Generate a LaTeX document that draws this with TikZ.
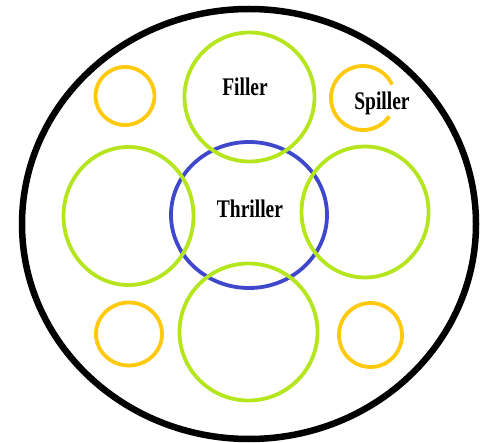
\documentclass[tikz,border=0pt]{standalone}
\usepackage{fontspec}
\setmainfont{Liberation Serif}
\usetikzlibrary{calc}
\definecolor{limeg}{HTML}{B5E61D}
\definecolor{goldo}{HTML}{FFC90E}
\definecolor{indigob}{HTML}{3F48CC}
\begin{document}
\begin{tikzpicture}[x=1pt,y=-1pt,
  outerring/.style={draw=black,line width=6.5pt},
  greenring/.style={draw=limeg,line width=3.8pt},
  bluering/.style={draw=indigob,line width=3.8pt},
  orangering/.style={draw=goldo,line width=3.8pt},
  lbl/.style={font=\fontsize{19.5}{20}\selectfont\bfseries, inner sep=0pt}]
\useasboundingbox (0,0) rectangle (487,443);
\fill[white] (0,0) rectangle (487,443);
% outer
\draw[outerring] (249,224) ellipse [x radius=227, y radius=215];
% blue centre
\draw[bluering] (249,215) ellipse [x radius=78, y radius=73];
% green rings
\draw[greenring] (249.5,97) ellipse [x radius=65, y radius=64.5];
\draw[greenring] (128.5,216) ellipse [x radius=65, y radius=69];
\draw[greenring] (365,212) ellipse [x radius=63.5, y radius=65.5];
\draw[greenring] (248.5,332) ellipse [x radius=69, y radius=68.5];
% orange rings
\draw[orangering] (125,96) ellipse [x radius=29.5, y radius=29];
\draw[orangering] (129,334) ellipse [x radius=33, y radius=31.5];
\draw[orangering] (370.5,335) ellipse [x radius=31.5, y radius=32];
\coordinate (sc) at (363,98);
\draw[orangering] ($(sc)+(35:32)$) arc[start angle=35, end angle=335, radius=32];
% labels
\node[lbl] (filler) at (245,87) {\scalebox{1}[1.3]{Filler}};
\node[lbl] (thriller) at (250,209) {\scalebox{1}[1.3]{Thriller}};
\node[lbl] (spiller) at (382,103) {\scalebox{1}[1.3]{Spiller}};
\end{tikzpicture}
\end{document}
